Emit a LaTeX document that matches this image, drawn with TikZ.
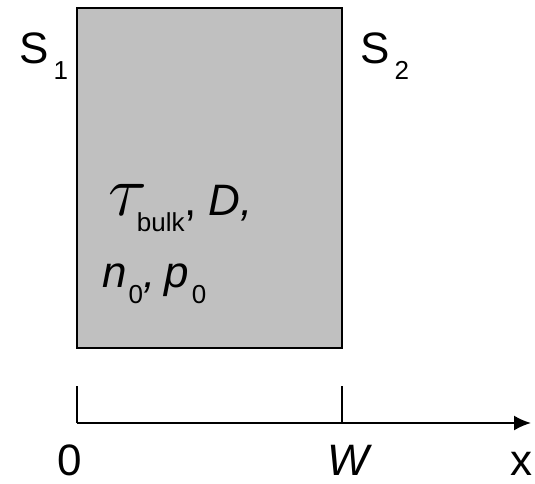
\documentclass[tikz,border=0pt]{standalone}
\usepackage{graphicx}
\usepackage{fontspec}
\setmainfont{Liberation Sans}
\usetikzlibrary{arrows.meta}
\definecolor{slabgray}{RGB}{192,192,192}
\newcommand{\lo}[1]{\raisebox{-16pt}{\fontsize{26}{26}\selectfont\upshape #1}}
\newcommand{\tauglyph}{\scalebox{2.9}{$\tau$}}

\begin{document}
\begin{tikzpicture}[x=1pt, y=-1pt,
  font=\fontsize{44}{52}\selectfont,
  edge/.style={draw=black, line width=2pt},
  lbl/.style={inner sep=0pt, anchor=base, text depth=0pt}
]
\useasboundingbox (0,0) rectangle (535,483);
\def\xa{76.5}
\def\xb{341.5}
\def\ya{423}
% slab
\draw[edge, fill=slabgray] (\xa,7.5) rectangle (\xb,347.5);
\node[lbl, anchor=base west] (s1) at (19,63) {S\kern5pt\lo{1}};
\node[lbl, anchor=base west] (s2) at (360,63) {S\kern5pt\lo{2}};
\node[lbl, anchor=base west] (bulk) at (108,215) {\tauglyph\kern-10pt\lo{bulk},\kern12pt\itshape D,};
\node[lbl, anchor=base west] (conc) at (102,287) {\itshape n\kern2pt\lo{0},\kern9pt p\kern3pt\lo{0}};
% x axis
\coordinate (o) at (\xa,\ya);
\coordinate (w) at (\xb,\ya);
\coordinate (xend) at (531,\ya);
\draw[edge, -{Latex[length=17pt, width=15pt]}] (o) -- (xend);
\foreach \p in {o,w} {
  \draw[edge] (\p) -- ++(0,-37);
}
\node[lbl] (zero) at (70,475) {0};
\node[lbl] (wlab) at (348,475) {\itshape W};
\node[lbl] (xlab) at (521,475) {x};
\end{tikzpicture}
\end{document}
